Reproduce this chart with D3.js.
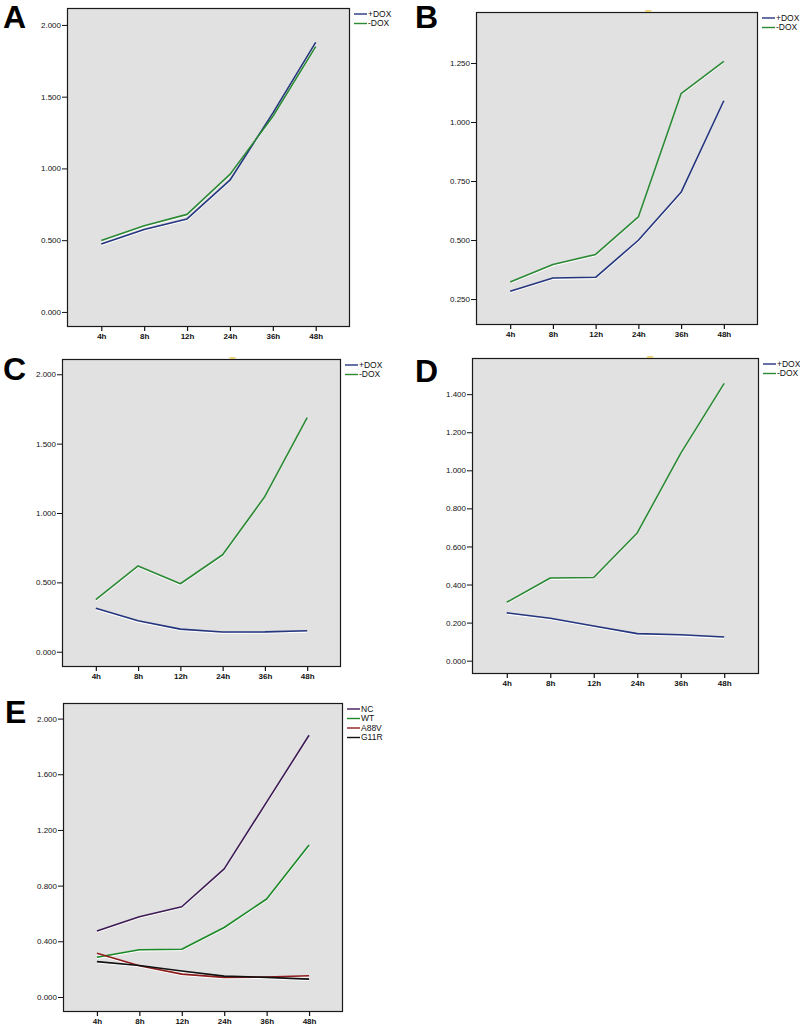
<!DOCTYPE html>
<html><head><meta charset="utf-8">
<script src="https://cdn.jsdelivr.net/npm/d3@7"></script>
<style>body{margin:0;background:#fff}svg{display:block}</style>
</head><body>
<svg id="c" width="800" height="1035"></svg>
<script>
// ---------- data ----------
const timepoints = ["4h", "8h", "12h", "24h", "36h", "48h"];

const A_plusDOX  = [0.473, 0.575, 0.648, 0.918, 1.385, 1.878];
const A_minusDOX = [0.497, 0.600, 0.680, 0.958, 1.362, 1.849];

const B_plusDOX  = [0.283, 0.339, 0.342, 0.499, 0.702, 1.090];
const B_minusDOX = [0.322, 0.396, 0.439, 0.598, 1.120, 1.257];

const C_plusDOX  = [0.313, 0.223, 0.163, 0.142, 0.143, 0.151];
const C_minusDOX = [0.375, 0.618, 0.490, 0.699, 1.119, 1.688];

const D_plusDOX  = [0.251, 0.223, 0.182, 0.142, 0.136, 0.124];
const D_minusDOX = [0.307, 0.434, 0.437, 0.671, 1.089, 1.457];

const E_NC   = [0.474, 0.577, 0.648, 0.920, 1.400, 1.880];
const E_WT   = [0.285, 0.339, 0.343, 0.499, 0.704, 1.091];
const E_A88V = [0.314, 0.224, 0.164, 0.141, 0.143, 0.152];
const E_G11R = [0.254, 0.226, 0.186, 0.150, 0.141, 0.128];

const yTicksA = [0, 0.5, 1.0, 1.5, 2.0];
const yTicksB = [0.25, 0.5, 0.75, 1.0, 1.25];
const yTicksC = [0, 0.5, 1.0, 1.5, 2.0];
const yTicksD = [0, 0.2, 0.4, 0.6, 0.8, 1.0, 1.2, 1.4];
const yTicksE = [0, 0.4, 0.8, 1.2, 1.6, 2.0];

const yRangeA = [-0.105, 2.118];
const yRangeB = [0.14, 1.466];
const yRangeC = [-0.11, 2.11];
const yRangeD = [-0.07, 1.59];
const yRangeE = [-0.108, 2.112];

// ---------- styles / layout ----------
const NAVY = "#25367f", GREEN = "#2c8a35";
const panels = [
  {label:"A", lx:3, ly:28, box:[67, 8, 350, 327], yDomain:yRangeA, yTicks:yTicksA, mark:null,
   series:[{name:"+DOX", values:A_plusDOX, color:NAVY}, {name:"-DOX", values:A_minusDOX, color:GREEN}]},
  {label:"B", lx:415, ly:28, box:[476, 12, 758, 325], yDomain:yRangeB, yTicks:yTicksB, mark:0.60,
   series:[{name:"+DOX", values:B_plusDOX, color:NAVY}, {name:"-DOX", values:B_minusDOX, color:GREEN}]},
  {label:"C", lx:3, ly:380, box:[62, 359, 341, 667], yDomain:yRangeC, yTicks:yTicksC, mark:0.60,
   series:[{name:"+DOX", values:C_plusDOX, color:NAVY}, {name:"-DOX", values:C_minusDOX, color:GREEN}]},
  {label:"D", lx:415, ly:382, box:[472, 358, 759, 674], yDomain:yRangeD, yTicks:yTicksD, mark:0.61,
   series:[{name:"+DOX", values:D_plusDOX, color:NAVY}, {name:"-DOX", values:D_minusDOX, color:GREEN}]},
  {label:"E", lx:5, ly:723, box:[63, 703, 343, 1012], yDomain:yRangeE, yTicks:yTicksE, mark:null,
   series:[{name:"NC", values:E_NC, color:"#3e1a55"}, {name:"WT", values:E_WT, color:"#1b8a26"},
           {name:"A88V", values:E_A88V, color:"#8f1c1c"}, {name:"G11R", values:E_G11R, color:"#111111"}]}
];

const svg = d3.select("#c");
const FONT = "'Liberation Sans', Arial, sans-serif";
const fmt = d3.format(".3f");

panels.forEach(p => {
  const [x0, y0, x1, y1] = p.box;
  const g = svg.append("g");
  const x = d3.scalePoint().domain(timepoints).range([x0, x1]).padding(0.8);
  const y = d3.scaleLinear().domain(p.yDomain).range([y1, y0]);

  g.append("rect").attr("x", x0).attr("y", y0).attr("width", x1 - x0).attr("height", y1 - y0)
    .attr("fill", "#e1e1e1");

  // series
  const line = d3.line().x((d, i) => x(timepoints[i])).y(d => y(d));
  p.series.forEach(s => {
    g.append("path").attr("d", line(s.values)).attr("fill", "none")
      .attr("stroke", "#ffffff").attr("stroke-width", 1.1).attr("transform", "translate(0,1.3)");
  });
  p.series.forEach(s => {
    g.append("path").attr("d", line(s.values)).attr("fill", "none")
      .attr("stroke", s.color).attr("stroke-width", 1.6).attr("stroke-linejoin", "round");
  });

  // border
  g.append("rect").attr("x", x0 + 0.5).attr("y", y0 + 0.5).attr("width", x1 - x0 - 1).attr("height", y1 - y0 - 1)
    .attr("fill", "none").attr("stroke", "#1a1a1a").attr("stroke-width", 1.2);

  // small yellow artefact at top edge
  if (p.mark !== null) {
    g.append("rect").attr("x", x0 + (x1 - x0) * p.mark).attr("y", y0 - 2).attr("width", 6).attr("height", 2)
      .attr("fill", "#e9d27a");
  }

  // axes
  const yAxis = d3.axisLeft(y).tickValues(p.yTicks).tickFormat(fmt).tickSize(5).tickPadding(1);
  const ya = g.append("g").attr("transform", `translate(${x0},0)`).call(yAxis);
  ya.select(".domain").remove();
  ya.selectAll("line").attr("stroke", "#111").attr("stroke-width", 1);
  ya.selectAll("text").attr("font-family", FONT).attr("font-size", 8).attr("fill", "#111");

  const xAxis = d3.axisBottom(x).tickSize(4).tickPadding(2);
  const xa = g.append("g").attr("transform", `translate(0,${y1})`).call(xAxis);
  xa.select(".domain").remove();
  xa.selectAll("line").attr("stroke", "#111").attr("stroke-width", 1.2);
  xa.selectAll("text").attr("font-family", FONT).attr("font-size", 8).attr("font-weight", "bold").attr("fill", "#111");

  // legend
  const lg = g.append("g").attr("transform", `translate(${x1 + 4},${y0 + 6})`);
  p.series.forEach((s, i) => {
    const yy = i * 9.5;
    lg.append("line").attr("x1", 0).attr("x2", 13).attr("y1", yy).attr("y2", yy)
      .attr("stroke", s.color).attr("stroke-width", 1.4);
    lg.append("text").attr("x", 14).attr("y", yy).attr("dy", "0.35em").text(s.name)
      .attr("font-family", FONT).attr("font-size", 8.5).attr("fill", "#111");
  });

  // panel letter
  svg.append("text").attr("x", p.lx).attr("y", p.ly).text(p.label)
    .attr("font-family", FONT).attr("font-weight", "bold").attr("font-size", 32).attr("fill", "#000");
});
</script>
</body></html>
